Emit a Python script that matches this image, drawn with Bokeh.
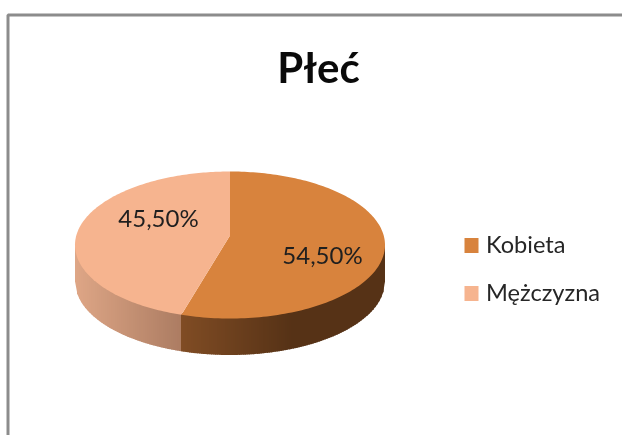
import numpy as np
from bokeh.plotting import figure
from bokeh.models import Range1d
from bokeh.core.properties import value
from bokeh.embed import file_html
from bokeh.resources import INLINE

title_text = "Płeć"
categories = ["Kobieta", "Mężczyzna"]
shares = [54.5, 45.5]
top_colors = ["#D8833D", "#F6B48F"]

# pie geometry (page pixels)
CX, CY, RX, RY, DEPTH = 229.5, 244.5, 155.0, 73.5, 36.5
VX, VY = 229.5, 235.0
FONT = value("Lato")

p = figure(width=622, height=435, output_backend="svg", toolbar_location=None,
           x_range=Range1d(0, 622), y_range=Range1d(435, 0),
           x_axis_type=None, y_axis_type=None, min_border=0,
           outline_line_color=None, border_fill_color="white",
           background_fill_color="white")
p.grid.visible = False
p.styles = {"position": "absolute", "left": "0", "top": "0", "filter": "blur(0.4px)"}


def rim(frac):
    """Point of the top ellipse reached from the pie's vertex at a clockwise share."""
    a = 2 * np.pi * frac
    dx, dy = np.sin(a) * RX, -np.cos(a) * RY
    ox, oy = VX - CX, VY - CY
    A = (dx / RX) ** 2 + (dy / RY) ** 2
    B = 2 * (ox * dx / RX ** 2 + oy * dy / RY ** 2)
    C = (ox / RX) ** 2 + (oy / RY) ** 2 - 1
    t = (-B + np.sqrt(B * B - 4 * A * C)) / (2 * A)
    return VX + t * dx, VY + t * dy


def lerp(c0, c1, t):
    return "#%02x%02x%02x" % tuple(int(round(a + (b - a) * t)) for a, b in zip(c0, c1))


fracs = np.cumsum([0] + shares) / sum(shares)
split_x, split_y = rim(fracs[1])

# side wall, as thin vertical strips that carry the gradient
ramps = {
    "left": ((222, 166, 134), (172, 124, 98)),
    "right": ((128, 76, 36), (86, 50, 22)),
}
edges = np.arange(CX - RX, CX + RX + 2, 2.0)
edges[-1] = CX + RX
xs, ys, cols = [], [], []
for x0, x1 in zip(edges[:-1], edges[1:]):
    x1b = min(x1 + 0.6, CX + RX)
    px = np.array([x0, x1b])
    yy = CY + RY * np.sqrt(np.clip(1 - ((px - CX) / RX) ** 2, 0, 1))
    xs.append([x0, x1b, x1b, x0])
    ys.append([yy[0] - 2, yy[1] - 2, yy[1] + DEPTH, yy[0] + DEPTH])
    mid = (x0 + x1) / 2
    if mid < split_x:
        cols.append(lerp(*ramps["left"], (mid - (CX - RX)) / (split_x - (CX - RX))))
    else:
        t = min(1.0, (mid - split_x) / 110)
        cols.append(lerp(*ramps["right"], t))
p.patches(xs, ys, fill_color=cols, line_color=None)

# top face
for i in range(len(categories)):
    f = np.linspace(fracs[i], fracs[i + 1], 160)
    rx_, ry_ = zip(*[rim(v) for v in f])
    p.patch([VX, *rx_], [VY, *ry_], fill_color=top_colors[i], line_color=None)

# value labels
labels = [f"{v:.2f}".replace(".", ",") + "%" for v in shares]
p.text([322, 158], [253.5, 216.5], text=labels, text_font=FONT, text_font_size="24px",
       text_align="center", text_baseline="middle", text_color="#1f1f1f")

# title
p.text([318], [66], text=[title_text], text_font=FONT, text_font_style="bold",
       text_font_size="42px", text_align="center", text_baseline="middle", text_color="#0a0a0a")

# legend
legend_y = [245, 293]
text_y = [243.5, 291.5]
p.rect([471, 471], legend_y, width=14, height=15, fill_color=top_colors, line_color=None)
p.text([485.5, 485.5], text_y, text=categories, text_font=FONT, text_font_size="23.6px",
       text_align="left", text_baseline="middle", text_color="#262626")

# chart-area frame, cut by the picture's edge
p.line([7.5, 7.5, 622], [435, 14.5, 14.5], line_color="#8c8c8c", line_width=3)

open("out.html", "w").write(file_html(p, INLINE))
